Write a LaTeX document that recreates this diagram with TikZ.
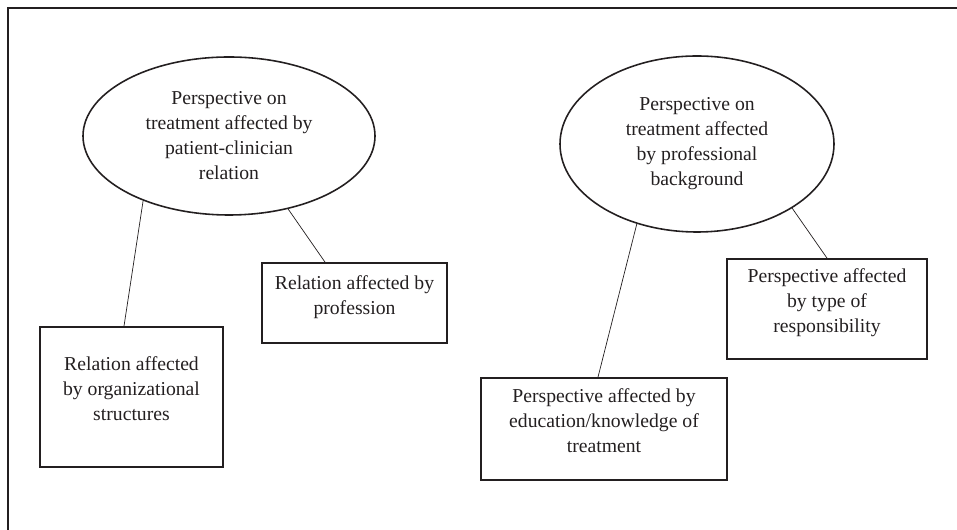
\documentclass[tikz,border=0pt]{standalone}
\usepackage{fontspec}
\setmainfont{Liberation Serif}
\usetikzlibrary{shapes.geometric,calc}
\definecolor{ink}{HTML}{231F20}

\begin{document}
\begin{tikzpicture}[font=\fontsize{11.2}{14.2}\selectfont,text=ink,
  topic/.style={draw=ink,line width=.9pt,ellipse,inner sep=0pt,align=center},
  factor/.style={draw=ink,line width=1pt,rectangle,inner sep=0pt,align=center,
    text depth=9.5pt},
  link/.style={draw=ink,line width=.4pt}]
  \useasboundingbox (0,0) rectangle (19.14,10.6);
  \draw[ink,line width=1.1pt] (0.16,0)--(0.16,10.44)--(19.3,10.44);

  % the two perspectives
  \node[topic,minimum width=5.84cm,minimum height=3.16cm] (rel) at (4.58,7.88)
    {Perspective on\\treatment affected by\\patient-clinician\\relation};
  \node[topic,minimum width=5.48cm,minimum height=3.52cm] (bkg) at (13.94,7.72)
    {Perspective on\\treatment affected\\by professional\\background};

  % what they are affected by
  \node[factor,minimum width=3.66cm,minimum height=2.80cm] (org) at (2.63,2.66)
    {Relation affected\\by organizational\\structures};
  \node[factor,minimum width=3.70cm,minimum height=1.60cm] (prof) at (7.09,4.54)
    {Relation affected by\\profession};
  \node[factor,minimum width=4.92cm,minimum height=2.04cm] (edu) at (12.08,2.02)
    {Perspective affected by\\education/knowledge of\\treatment};
  \node[factor,minimum width=4.00cm,minimum height=2.00cm] (resp) at (16.54,4.42)
    {Perspective affected\\by type of\\responsibility};

  \draw[link] (rel.217)--($(org.north)+(-0.15,0)$);
  \draw[link] (rel.309)--($(prof.north)+(-0.59,0)$);
  \draw[link] (bkg.233)--($(edu.north)+(-0.12,0)$);
  \draw[link] (bkg.326)--(resp.north);
\end{tikzpicture}
\end{document}
